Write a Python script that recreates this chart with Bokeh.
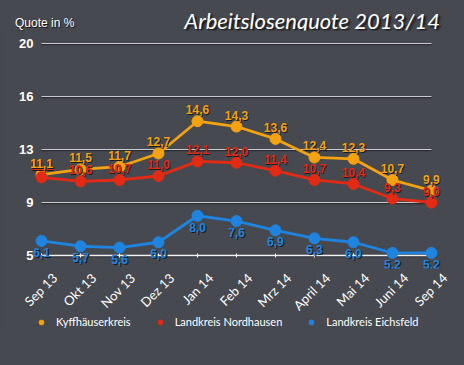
import numpy as np
from bokeh.plotting import figure
from bokeh.layouts import column
from bokeh.models import (ColumnDataSource, FixedTicker, Range1d, LabelSet, Div,
                          Legend, LegendItem, LinearAxis)
from bokeh.core.properties import value
from bokeh.embed import file_html
from bokeh.resources import INLINE

months = ["Sep 13", "Okt 13", "Nov 13", "Dez 13", "Jan 14", "Feb 14", "Mrz 14",
          "April 14", "Mai 14", "Juni 14", "Sep 14"]
kyff = [11.1, 11.5, 11.7, 12.7, 14.6, 14.3, 13.6, 12.4, 12.3, 10.7, 9.9]
nord = [10.9, 10.6, 10.7, 11.0, 12.1, 12.0, 11.4, 10.7, 10.4, 9.3, 9.0]
eich = [6.1, 5.7, 5.6, 6.0, 8.0, 7.6, 6.9, 6.3, 6.0, 5.2, 5.2]
nord_labels = [11.1, 10.6, 10.7, 11.0, 12.1, 12.0, 11.4, 10.7, 10.4, 9.3, 9.0]
y_ticks = [5, 9, 13, 16, 20]
names = ["Kyffhäuserkreis", "Landkreis Nordhausen", "Landkreis Eichsfeld"]
colors = ["#f4a210", "#e32a14", "#1f84df"]
title = "Arbeitslosenquote 2013/14"
y_title = "Quote in %"

BG = "#464950"
tick_pos = list(range(len(y_ticks)))


def ymap(v):
    return [float(z) for z in np.interp(v, y_ticks, tick_pos)]


def fmt(v):
    return f"{v:.1f}".replace(".", ",")


# ---------- header ----------
header = Div(
    text=(
        '<div style="position:relative;width:464px;height:30px;">'
        f'<span style="position:absolute;left:15px;top:16px;color:white;'
        f'font-family:\'Liberation Sans\';font-size:12px;line-height:14px;'
        f'text-shadow:1px 1px 1px #111;">{y_title}</span>'
        f'<span style="position:absolute;right:24px;top:8px;color:white;'
        f'font-family:Lato;font-style:italic;font-size:22px;line-height:26px;'
        f'text-shadow:2px 2px 2px #111;">{title}</span>'
        '</div>'),
    width=464, height=30, margin=(0, 0, 0, 0),
    styles={"background-color": BG})

# ---------- main chart ----------
X0, X1 = -0.282, 10.54
LAB_SHIFT = 0.34
p = figure(frame_width=422, frame_height=238, output_backend="svg", toolbar_location=None,
           x_range=Range1d(X0, X1), y_range=Range1d(-0.245, 4.245),
           background_fill_color=BG, border_fill_color=BG, outline_line_color=None,
           min_border_left=30, min_border_right=12, min_border_top=0,
           min_border_bottom=60, x_axis_location=None, margin=(0, 0, 0, 0))
p.grid.visible = False
p.extra_x_ranges = {"lab": Range1d(X0 - LAB_SHIFT, X1 - LAB_SHIFT)}

xs = list(range(len(months)))

for i, t in enumerate(y_ticks):
    yv = ymap([t])[0]
    p.segment(x0=[xs[0]], x1=[xs[-1]], y0=[yv - 0.02], y1=[yv - 0.02],
              line_color="#2b2d33", line_width=1.5)
    p.segment(x0=[xs[0]], x1=[xs[-1]], y0=[yv], y1=[yv],
              line_color="#f2f2f2" if i == 0 else "#c9cacd",
              line_width=1.6 if i == 0 else 1.2)

p.scatter(x=xs, y=[ymap([y_ticks[0]])[0]] * len(xs), marker="dash", angle=np.pi / 2,
          size=4, line_color="white", line_width=1)

series = [kyff, nord, eich]
label_vals = [kyff, nord_labels, eich]
for vals, col in zip(series, colors):
    src = ColumnDataSource(dict(x=xs, y=ymap(vals)))
    p.line("x", "y", source=src, line_color=col, line_width=2.8)
    p.scatter("x", "y", source=src, size=11, fill_color=col, line_color=col)

offsets = [7, 7, -7]
baselines = ["bottom", "bottom", "top"]
for k in [2, 1, 0]:
    vals, col = series[k], colors[k]
    src = ColumnDataSource(dict(x=xs, y=ymap(vals), t=[fmt(v) for v in label_vals[k]]))
    for dx, c in [(1, "#1a1b1f"), (0, col)]:
        p.add_layout(LabelSet(x="x", y="y", text="t", source=src, x_offset=dx,
                              y_offset=offsets[k] - dx, text_align="center",
                              text_baseline=baselines[k], text_color=c,
                              text_font=value("Liberation Sans"), text_font_style="bold",
                              text_font_size="12px"))

p.yaxis.ticker = FixedTicker(ticks=tick_pos)
p.yaxis.major_label_overrides = {i: str(t) for i, t in enumerate(y_ticks)}
p.yaxis.axis_line_color = None
p.yaxis.major_tick_line_color = None
p.yaxis.minor_tick_line_color = None
p.yaxis.major_tick_out = 0
p.yaxis.major_tick_in = 0
p.yaxis.minor_tick_out = 0
p.yaxis.major_label_text_color = "white"
p.yaxis.major_label_text_font = "Liberation Sans"
p.yaxis.major_label_text_font_style = "bold"
p.yaxis.major_label_text_font_size = "13px"
p.yaxis.major_label_standoff = -3

xaxis = LinearAxis(x_range_name="lab", ticker=FixedTicker(ticks=xs),
                   major_label_overrides={i: m for i, m in enumerate(months)},
                   axis_line_color=None, major_tick_line_color=None,
                   minor_tick_line_color=None, major_label_orientation=np.pi / 4,
                   major_label_text_color="white", major_label_text_font="Lato",
                   major_label_text_font_size="13px", major_label_standoff=1)
p.add_layout(xaxis, "below")

# ---------- legend strip (transparent, pulled up over the axis panel) ----------
lg = figure(width=464, height=65, output_backend="svg", toolbar_location=None,
            x_range=Range1d(0, 1), y_range=Range1d(0, 1),
            background_fill_alpha=0, border_fill_alpha=0, outline_line_color=None,
            min_border=0, x_axis_location=None, y_axis_location=None,
            margin=(-28, 0, 0, 0))
lg.grid.visible = False
items = []
for n, col in zip(names, colors):
    r = lg.scatter(x=[-5], y=[-5], size=10, fill_color=col, line_color=col)
    items.append(LegendItem(label=n, renderers=[r]))
legend = Legend(items=items, orientation="horizontal", background_fill_alpha=0,
                border_line_color=None, label_text_color="white", label_text_font="Lato",
                label_text_font_size="11px", glyph_width=12, glyph_height=12,
                label_height=12, label_standoff=9, spacing=23, padding=0, margin=0,
                location=(5, 37))
lg.add_layout(legend)

layout = column(header, p, lg, spacing=0)

html = file_html(layout, INLINE)
html = html.replace("<head>", "<head><style>html,body{background:%s;}</style>" % BG, 1)
open("out.html", "w").write(html)
